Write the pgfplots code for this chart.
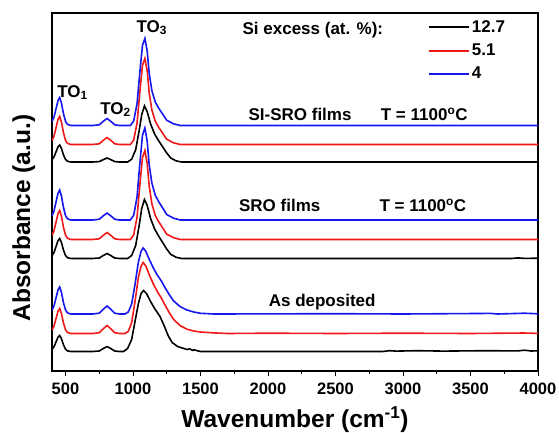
\documentclass[border=0pt]{standalone}
\usepackage{pgfplots}
\pgfplotsset{compat=1.18}
\usepackage{fontspec}
\setmainfont{Liberation Sans}
\definecolor{myred}{RGB}{240,24,24}
\definecolor{myblue}{RGB}{22,22,238}
\newcommand{\annfont}{\fontsize{17}{20}\selectfont\bfseries}
\pgfplotsset{
  mylegimg/.style={legend image code/.code={\draw[##1] (0pt,0pt) -- (40pt,0pt);}},
}
\begin{document}
\begin{tikzpicture}
\path[use as bounding box] (-52pt,-61pt) rectangle (507pt,371pt);
\begin{axis}[
  width=486pt, height=358pt, scale only axis,
  xmin=400, xmax=4000, ymin=0, ymax=358,
  xtick={500,1000,...,4000}, minor x tick num=1,
  ytick=\empty,
  xtick pos=bottom, tick align=outside,
  major tick length=5pt, minor tick length=3pt,
  axis line style={line width=1.3pt},
  every tick/.style={line width=1pt, black},
  /pgf/number format/assume math mode=true,
  /pgf/number format/set thousands separator={},
  ticklabel style={font=\fontsize{16.5}{19}\selectfont\bfseries},
  xticklabel style={yshift=-3pt},
  xlabel={Wavenumber (cm\textsuperscript{-1})},
  ylabel={Absorbance (a.u.)},
  xlabel style={font=\fontsize{24.5}{28}\selectfont\bfseries, at={(axis description cs:0.5,-0.137)}, anchor=center},
  ylabel style={font=\fontsize{24.5}{28}\selectfont\bfseries, at={(axis description cs:-0.058,0.427)}, anchor=center},
  every axis plot/.append style={line width=1.6pt},
  legend style={at={(axis cs:3188,352)}, anchor=north west, draw=none, fill=none, inner sep=0pt,
    font=\annfont, row sep=7pt, nodes={inner sep=1.5pt}},
  legend cell align=left,
  mylegimg,
  legend image post style={line width=1.8pt},
]
% ---------- SI-SRO films ----------
\addplot[black] coordinates {
(400,211.4) (415,214.1) (430,219.2) (445,224.3) (457,226) (470,222.6) (485,216.1) (500,211.6) (515,209.7) (540,209) (700,209)
(750,209.4) (780,211.4) (808,213) (835,211.4) (865,209.4) (900,209) (960,209)
(990,211.8) (1020,221.3) (1045,239.8) (1065,256.6) (1085,265) (1105,259.4) (1130,247.1) (1160,237) (1190,230.3)
(1220,224.1) (1250,218) (1280,212.9) (1320,210.1) (1360,209) (4000,209)};
\addlegendentry{12.7}
\addplot[myred] coordinates {
(400,230.4) (415,234.9) (430,243.3) (445,251.7) (457,254.5) (470,248.9) (485,238.3) (500,230.7) (515,227.6) (540,226.5) (700,226.5)
(750,227.2) (780,230.7) (808,233.5) (835,230.7) (865,227.2) (900,226.5) (980,226.5)
(1005,230.8) (1030,248.0) (1050,278.1) (1070,305.6) (1088,312.5) (1105,300.5) (1120,278.1) (1140,260.9) (1165,249.7)
(1190,243.7) (1220,237.7) (1250,231.7) (1300,228.2) (1350,226.5) (4000,226.5)};
\addlegendentry{5.1}
\addplot[myblue] coordinates {
(400,249.4) (415,253.9) (430,262.3) (445,270.7) (457,273.5) (470,267.9) (485,257.3) (500,249.7) (515,246.6) (540,245.5) (700,245.5)
(750,246.2) (780,249.7) (808,252.5) (835,249.7) (865,246.2) (900,245.5) (980,245.5)
(1005,249.9) (1030,267.3) (1050,297.7) (1070,325.5) (1088,332.5) (1105,320.3) (1120,297.7) (1140,280.3) (1165,269.0)
(1190,262.9) (1220,256.8) (1250,250.7) (1300,247.2) (1350,245.5) (4000,245.5)};
\addlegendentry{4}
% ---------- SRO films ----------
\addplot[black, forget plot] coordinates {
(400,115.3) (415,118.5) (430,124.5) (445,130.5) (457,132.5) (470,128.5) (485,120.9) (500,115.5) (515,113.3) (540,112.5) (700,112.5)
(750,113) (780,115.5) (808,117.5) (835,115.5) (865,113) (900,112.5) (960,112.5)
(990,115.5) (1020,125.5) (1045,145) (1065,162.7) (1085,171.5) (1105,165.6) (1130,152.6) (1160,142) (1190,134.9)
(1220,128.4) (1250,121.9) (1280,116.6) (1320,113.7) (1360,112.5) (3800,112.5) (3850,113.1) (3900,112.6) (4000,112.8)};
\addplot[myred, forget plot] coordinates {
(400,135.6) (415,140.2) (430,148.9) (445,157.6) (457,160.5) (470,154.7) (485,143.7) (500,135.9) (515,132.7) (540,131.5) (700,131.5)
(750,132.2) (780,135.7) (808,138.5) (835,135.7) (865,132.2) (900,131.5) (980,131.5)
(1005,136) (1030,153.8) (1050,184.9) (1070,213.4) (1088,220.5) (1105,208) (1120,184.9) (1140,167.1) (1165,155.5)
(1190,149.3) (1220,143.1) (1250,136.8) (1300,133.3) (1350,131.5) (4000,131.5)};
\addplot[myblue, forget plot] coordinates {
(400,155.2) (415,160) (430,169) (445,178) (457,181) (470,175) (485,163.6) (500,155.5) (515,152.2) (540,151) (700,151)
(750,151.7) (780,155.2) (808,158) (835,155.2) (865,151.7) (900,151) (980,151)
(1005,155.6) (1030,174) (1050,206.2) (1070,235.6) (1088,243) (1105,230.1) (1120,206.2) (1140,187.8) (1165,175.8)
(1190,169.4) (1220,163) (1250,156.5) (1300,152.8) (1350,151) (4000,151)};
% ---------- As deposited ----------
\addplot[black, forget plot] coordinates {
(400,21.7) (415,24.3) (430,29.1) (445,33.9) (457,35.5) (470,32.3) (485,26.2) (500,21.9) (515,20.1) (540,19.5) (700,19.5)
(750,20) (780,22.5) (808,24.5) (835,22.5) (865,20) (900,19.5) (930,19.5)
(960,22.5) (990,31.5) (1015,49.5) (1040,67.5) (1060,77.5) (1078,80.5) (1100,77.5) (1130,69.5) (1160,62.5) (1200,54.5)
(1230,45.5) (1260,35.5) (1290,28.5) (1330,24.5) (1400,21.5) (1420,22.3) (1440,20.6) (1450,21.2) (1500,19.5)
(2850,19.5) (2900,20.3) (2950,19.9) (3100,20.3) (3300,19.9) (3600,20.3) (3850,20.1) (3900,20.8) (3950,20.0) (4000,20.2)};
\addplot[myred, forget plot] coordinates {
(400,41) (415,45) (430,52.5) (445,60) (457,62.5) (470,57.5) (485,48) (500,41.3) (515,38.5) (540,37.5) (700,37.5)
(750,38.3) (780,42.3) (808,45.5) (835,42.3) (865,38.3) (900,37.5) (940,37.5)
(965,39.6) (990,48.2) (1015,69.5) (1040,93.6) (1060,105) (1075,108.5) (1095,105) (1120,96.4) (1150,87.2) (1180,79.4)
(1210,73) (1240,65.2) (1270,58.1) (1300,51.7) (1350,45.3) (1400,41.8) (1450,40) (1500,39) (1600,38.1) (1700,37.5)
(2000,37.8) (2500,37.5) (3000,37.8) (3500,37.5) (3900,38.0) (4000,37.6)};
\addplot[myblue, forget plot] coordinates {
(400,60.8) (415,65.1) (430,73.2) (445,81.3) (457,84) (470,78.6) (485,68.3) (500,61.1) (515,58.1) (540,57) (700,57)
(750,57.8) (780,61.8) (808,65) (835,61.8) (865,57.8) (900,57) (940,57)
(965,59) (990,66.9) (1015,86.7) (1040,109.1) (1060,119.7) (1075,123) (1095,119.7) (1120,111.8) (1150,103.2) (1180,95.9)
(1210,90) (1240,82.7) (1270,76.1) (1300,70.2) (1350,64.3) (1400,61) (1450,59) (1500,57.7) (1600,57)
(2500,57.3) (3000,57) (3650,57.6) (3700,57.0) (3900,57.8) (4000,57.2)};
% ---------- annotations ----------
\node[anchor=base west, font=\annfont] at (axis cs:413,274) {TO\textsubscript{1}};
\node[anchor=base west, font=\annfont] at (axis cs:732,257) {TO\textsubscript{2}};
\node[anchor=base west, font=\annfont] at (axis cs:1000,338.7) {TO\textsubscript{3}};
\node[anchor=base west, font=\annfont] at (axis cs:1786,336) {Si excess (at. \%):};
\node[anchor=base west, font=\annfont] at (axis cs:1830,250.3) {SI-SRO films};
\node[anchor=base west, font=\annfont] at (axis cs:2810,250.3) {T = 1100\textsuperscript{o}C};
\node[anchor=base west, font=\annfont] at (axis cs:1760,159.3) {SRO films};
\node[anchor=base west, font=\annfont] at (axis cs:2800,159.3) {T = 1100\textsuperscript{o}C};
\node[anchor=base west, font=\annfont] at (axis cs:1980,65) {As deposited};
\end{axis}
\end{tikzpicture}
\end{document}
